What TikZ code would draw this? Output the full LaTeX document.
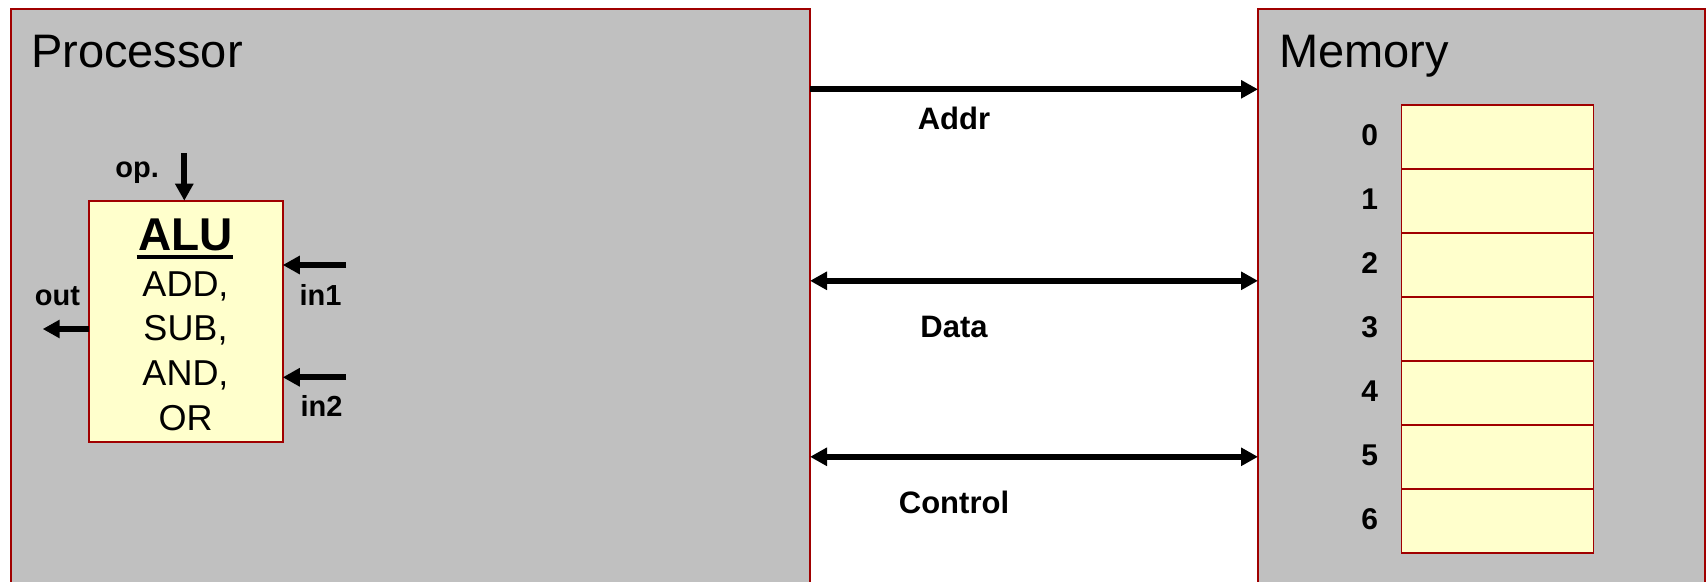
\documentclass[tikz,border=0pt]{standalone}
\usepackage{fontspec}
\setmainfont{Liberation Sans}
\usetikzlibrary{arrows.meta}
\definecolor{boxred}{RGB}{160,0,0}
\definecolor{boxgray}{RGB}{192,192,192}
\definecolor{cellyellow}{RGB}{255,255,204}
\begin{document}
\begin{tikzpicture}[x=1pt,y=-1pt,
  unitbox/.style={draw=boxred,line width=2pt,fill=boxgray,rectangle,inner sep=0pt,outer sep=0pt,anchor=north west},
  cellbox/.style={draw=boxred,line width=1.6pt,fill=cellyellow,rectangle,inner sep=0pt,outer sep=0pt,minimum width=192pt,minimum height=64pt},
  alubox/.style={draw=boxred,line width=1.8pt,fill=cellyellow,rectangle,inner sep=0pt,outer sep=0pt,minimum width=193.5pt,minimum height=241pt},
  bigtitle/.style={inner sep=0pt,anchor=base west,font=\fontsize{47}{56}\selectfont},
  buslabel/.style={inner sep=0pt,anchor=base,font=\fontsize{31}{37}\selectfont\bfseries},
  smalllabel/.style={inner sep=0pt,anchor=base,font=\fontsize{29}{35}\selectfont\bfseries},
  numlabel/.style={inner sep=0pt,anchor=center,font=\fontsize{30}{36}\selectfont\bfseries},
  opline/.style={inner sep=0pt,anchor=base,font=\fontsize{36}{44}\selectfont},
  arr/.style={line width=6pt,-{Triangle[length=17pt,width=17.5pt]}},
  darr/.style={line width=6pt,{Triangle[length=17pt,width=17.5pt]}-{Triangle[length=17pt,width=17.5pt]}}
]
\clip (0,0) rectangle (1707,581);
\fill[white] (0,0) rectangle (1707,581);

% Units
\node[unitbox,minimum width=799pt,minimum height=620pt] (proc) at (11,9) {};
\node[unitbox,minimum width=447pt,minimum height=620pt] (mem) at (1258,9) {};
\node[bigtitle] (proctitle) at (31,67) {Processor};
\node[bigtitle] (memtitle) at (1279,67) {Memory};

% Memory cells
\foreach \i in {0,...,6}{
  \node[cellbox] (c\i) at (1497.5,{136.9+64*\i}) {};
  \node[numlabel] (n\i) at (1369.7,{134.9+64*\i}) {\i};
}

% ALU
\node[alubox] (alu) at (186,321.2) {};
\node[inner sep=0pt,anchor=base,font=\fontsize{46}{55}\selectfont\bfseries] (alut) at (185.5,250) {ALU};
\draw[line width=4pt] (alut.base west) ++(-1.5,7) coordinate (ul1) -- (alut.base east |- ul1);
\node[opline] (o1) at (185.5,296.7) {ADD,};
\node[opline] (o2) at (185.5,340.5) {SUB,};
\node[opline] (o3) at (185.5,385.5) {AND,};
\node[opline] (o4) at (185.5,430) {OR};

% ALU ports
\coordinate (opstart) at (184.3,153);
\draw[arr] (opstart) -- (opstart |- alu.north);
\node[smalllabel] (oplab) at (137.2,177) {op.};

\coordinate (in1start) at (346,265);
\draw[arr] (in1start) -- (in1start -| alu.east);
\node[smalllabel] (in1lab) at (320.5,305.7) {in1};

\coordinate (in2start) at (346,377.3);
\draw[arr] (in2start) -- (in2start -| alu.east);
\node[smalllabel] (in2lab) at (321.5,416.7) {in2};

\coordinate (outend) at (42.7,329);
\draw[arr] (outend -| alu.west) -- (outend);
\node[smalllabel] (outlab) at (57.4,305.7) {out};

% Buses
\coordinate (addry) at (0,89.3);
\draw[arr] (addry -| proc.east) -- (addry -| mem.west);
\node[buslabel] (addrlab) at (954,129.7) {Addr};

\coordinate (datay) at (0,280.8);
\draw[darr] (datay -| proc.east) -- (datay -| mem.west);
\node[buslabel] (datalab) at (954,337) {Data};

\coordinate (ctrly) at (0,456.8);
\draw[darr] (ctrly -| proc.east) -- (ctrly -| mem.west);
\node[buslabel] (ctrllab) at (954,513) {Control};
\end{tikzpicture}
\end{document}
